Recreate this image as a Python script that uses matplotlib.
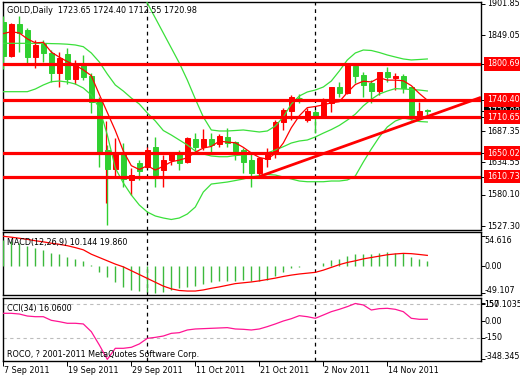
import numpy as np
import matplotlib
matplotlib.use("Agg")
import matplotlib.pyplot as plt

plt.rcParams['font.family'] = ['DejaVu Sans']
FS = 5.8

# ---------------- data ----------------
date_labels = ["7 Sep 2011", "19 Sep 2011", "29 Sep 2011", "11 Oct 2011",
               "21 Oct 2011", "2 Nov 2011", "14 Nov 2011"]
date_pos = [0, 8, 16, 24, 32, 40, 48]
separators = [18, 39]   # first bar of Oct / Nov

opens = [1872.0, 1814.6, 1868.1, 1858.0, 1812.9, 1834.3, 1819.7, 1785.9, 1817.5, 1775.3,
         1802.8, 1780.4, 1738.2, 1655.5, 1623.5, 1648.8, 1604.9, 1634.1, 1627.3, 1661.1,
         1621.8, 1638.6, 1649.9, 1635.8, 1673.5, 1660.1, 1673.5, 1665.6, 1676.9, 1669.5,
         1655.5, 1638.6, 1616.2, 1640.4, 1648.8, 1702.5, 1721.8, 1744.0, 1706.0, 1720.0,
         1712.9, 1734.3, 1762.3, 1751.2, 1797.2, 1782.1, 1768.0, 1755.6, 1787.6, 1777.5,
         1780.4, 1762.3, 1714.6, 1723.65]
highs = [1881.0, 1869.3, 1881.0, 1860.8, 1841.1, 1841.1, 1824.2, 1821.4, 1827.1, 1807.4,
         1815.8, 1784.9, 1745.5, 1664.0, 1675.2, 1667.8, 1624.6, 1638.6, 1660.0, 1678.0,
         1647.1, 1652.6, 1655.5, 1677.0, 1683.7, 1690.4, 1683.7, 1682.5, 1692.1, 1671.0,
         1658.3, 1652.6, 1641.5, 1658.3, 1706.1, 1725.8, 1748.3, 1750.0, 1725.8, 1723.0,
         1742.7, 1762.3, 1770.7, 1801.8, 1801.8, 1787.6, 1773.6, 1787.6, 1795.0, 1785.0,
         1783.7, 1762.3, 1737.0, 1724.40]
lows = [1791.7, 1811.9, 1821.4, 1798.9, 1793.4, 1804.5, 1770.7, 1761.3, 1766.9, 1766.9,
        1773.6, 1718.5, 1627.3, 1529.0, 1607.8, 1593.6, 1579.6, 1604.9, 1625.0, 1592.6,
        1593.6, 1630.2, 1621.8, 1634.0, 1649.9, 1655.5, 1649.9, 1661.1, 1661.1, 1638.6,
        1616.2, 1593.6, 1607.8, 1627.3, 1641.5, 1689.3, 1706.0, 1734.3, 1703.3, 1684.0,
        1710.0, 1720.1, 1745.5, 1750.0, 1768.0, 1745.5, 1734.3, 1748.3, 1770.7, 1756.8,
        1751.2, 1706.1, 1709.0, 1712.55]
closes = [1814.6, 1868.1, 1853.4, 1812.9, 1832.6, 1818.6, 1785.9, 1811.2, 1775.3, 1801.8,
          1779.2, 1737.0, 1652.6, 1623.5, 1649.9, 1606.1, 1613.3, 1620.1, 1655.5, 1613.3,
          1638.6, 1651.0, 1634.1, 1675.2, 1660.1, 1674.1, 1664.0, 1679.1, 1666.8, 1654.4,
          1635.8, 1616.2, 1641.5, 1652.6, 1703.3, 1723.0, 1745.0, 1742.5, 1721.8, 1712.9,
          1737.0, 1762.3, 1751.2, 1798.9, 1780.4, 1765.2, 1755.6, 1787.6, 1778.2, 1780.4,
          1759.6, 1714.6, 1721.8, 1720.98]

# extra red stroke drawn beside the 26 Sep candle: (bar, top, bottom)
spike = (13, 1704.4, 1566.6)

ma_fast = [1852.0, 1855.0, 1853.0, 1843.0, 1836.3, 1837.1, 1820.7, 1812.2, 1804.7, 1798.6,
           1790.7, 1780.9, 1749.2, 1718.8, 1688.4, 1653.8, 1629.1, 1622.6, 1629.0, 1621.7,
           1628.2, 1635.7, 1638.5, 1642.4, 1651.8, 1658.9, 1661.5, 1670.5, 1668.8, 1667.7,
           1660.0, 1650.5, 1642.9, 1640.1, 1649.9, 1667.3, 1693.1, 1713.2, 1727.0, 1728.9,
           1731.7, 1735.2, 1737.0, 1752.5, 1766.0, 1771.6, 1770.3, 1777.5, 1773.4, 1773.4,
           1772.3, 1764.1, 1750.9, 1739.5]
bb_upper = [None, None, None, None, None, None, None, None, None, None,
            None, None, None, None, None, None, None, 1928.8, 1903.5, 1878.2,
            1852.9, 1827.6, 1802.3, 1773.6, 1741.6, 1711.2, 1689.3, 1687.6, 1687.6, 1688.4,
            1689.3, 1687.6, 1685.9, 1687.6, 1696.0, 1711.2, 1733.1, 1746.6, 1753.4, 1756.7,
            1761.8, 1771.9, 1788.8, 1807.4, 1819.2, 1824.2, 1823.4, 1820.0, 1815.8, 1812.4,
            1809.1, 1807.4, 1808.2, 1809.1]
bb_middle = [1835.5, 1835.5, 1835.5, 1835.5, 1835.5, 1835.5, 1835.0, 1834.7, 1834.0, 1832.7,
             1829.8, 1819.2, 1804.0, 1783.7, 1765.2, 1755.0, 1743.2, 1733.1, 1718.0, 1704.5,
             1688.4, 1680.8, 1672.4, 1664.0, 1653.8, 1648.8, 1645.4, 1644.2, 1644.2, 1646.2,
             1647.1, 1650.5, 1648.8, 1650.5, 1655.5, 1661.1, 1667.3, 1670.7, 1672.4, 1677.5,
             1684.0, 1690.0, 1697.0, 1706.0, 1716.0, 1730.0, 1741.0, 1750.0, 1755.0, 1759.1,
             1758.4, 1757.6, 1756.7, 1755.1]
bb_lower = [1753.9, 1753.9, 1753.9, 1753.9, 1758.4, 1765.2, 1770.7, 1771.9, 1770.2, 1766.9,
            1760.1, 1748.3, 1726.4, 1681.0, 1625.0, 1600.0, 1579.6, 1562.7, 1550.9, 1544.2,
            1540.8, 1538.3, 1540.8, 1547.5, 1559.3, 1584.6, 1598.1, 1599.8, 1601.5, 1604.0,
            1606.6, 1610.0, 1612.5, 1614.2, 1613.3, 1610.0, 1606.6, 1603.2, 1602.0, 1602.0,
            1602.0, 1603.2, 1603.2, 1604.9, 1611.6, 1635.2, 1657.2, 1677.5, 1694.4, 1704.4,
            1709.5, 1707.0, 1703.6, 1702.8]

levels = [1800.69, 1740.40, 1710.65, 1650.02, 1610.73]
trend_pts = [(32, 1610.73), (53, 1712.0)]
price_ticks = [1901.85, 1849.05, 1687.35, 1634.55, 1580.10, 1527.30]
last_price = 1720.98

macd_hist = [48.5, 45.5, 42.5, 37.5, 33.5, 30.0, 25.0, 22.0, 17.0, 14.0,
             10.0, 2.7, -9.5, -19.0, -28.0, -37.0, -42.5, -45.0, -47.0, -48.5,
             -46.0, -43.0, -40.0, -37.0, -35.0, -32.0, -29.0, -27.5, -27.0, -26.0,
             -25.5, -27.0, -27.0, -25.5, -18.5, -10.5, -3.0, -1.0, 1.0, 1.0,
             6.0, 11.5, 13.5, 18.0, 22.0, 22.5, 23.0, 24.0, 25.5, 24.0,
             24.0, 17.0, 13.3, 10.144]
macd_signal = [54.6, 53.0, 51.0, 49.0, 46.5, 44.5, 42.0, 40.0, 37.5, 34.0,
               30.0, 22.0, 16.0, 10.0, 4.0, -1.0, -8.0, -15.0, -22.0, -29.0,
               -36.0, -41.0, -44.0, -45.0, -45.0, -43.0, -40.0, -37.5, -34.5, -31.5,
               -30.0, -28.5, -26.5, -24.0, -21.5, -18.5, -16.0, -14.0, -12.5, -11.0,
               -7.0, -2.0, 3.0, 7.0, 10.0, 13.5, 16.0, 18.5, 21.0, 22.5,
               23.5, 23.0, 21.5, 19.86]
macd_ticks = [54.616, 0.00, -49.107]

cci = [69.3, 69.3, 63.0, 45.0, 39.0, 39.0, 6.4, -5.5, -20.0, -20.0,
       -26.0, -95.0, -214.0, -343.0, -244.0, -244.0, -235.0, -205.0, -155.0, -146.0,
       -134.0, -110.0, -104.0, -80.0, -71.0, -68.0, -65.0, -62.0, -59.0, -71.0,
       -74.0, -80.0, -71.0, -50.0, -26.0, 0.4, 21.0, 48.0, 39.0, 24.6,
       54.0, 84.0, 105.0, 129.0, 157.1, 144.0, 99.0, 111.0, 114.0, 105.0,
       84.0, 24.6, 15.6, 16.06]
cci_levels = [150, -150]

# ---------------- layout ----------------
W, H = 520, 380
fig = plt.figure(figsize=(W / 100, H / 100), dpi=100)
fig.patch.set_facecolor("white")


def rect(x0, y0, x1, y1):
    return [x0 / W, 1 - y1 / H, (x1 - x0) / W, (y1 - y0) / H]


ax = fig.add_axes(rect(2.7, 2, 481, 229.5))
axm = fig.add_axes(rect(2.7, 232, 481, 294.5))
axc = fig.add_axes(rect(2.7, 298.3, 481, 360.7))

XL = (-0.075, 59.71)
GREEN = "#2FD02F"
BAND = "#3AE03A"
RED = "#FF0000"
PX = 0.72  # one pixel in points

for a in (ax, axm, axc):
    a.set_xlim(*XL)
    a.set_facecolor("white")
    for s in a.spines.values():
        s.set_linewidth(1.0)
        s.set_color("black")
    a.set_xticks([])
    a.yaxis.tick_right()
    a.tick_params(axis="y", direction="out", length=3, width=0.7, labelright=False,
                  labelleft=False, left=False, right=True)
    for s in separators:
        a.axvline(s, color="black", lw=0.9, ls=(0, (3, 3)), zorder=1)

ax.set_ylim(1521.4, 1905.2)
axm.set_ylim(-51.3, 62.4)
axc.set_ylim(-354.9, 203.6)

x = np.arange(len(closes))
o = np.array(opens); c = np.array(closes); h = np.array(highs); l = np.array(lows)
up = c >= o
cols = np.where(up, RED, GREEN)

# ---------------- main panel ----------------
ax.vlines(x, l, h, colors=cols, lw=1.0, zorder=3)
body_lo = np.minimum(o, c)
body_h = np.abs(c - o)
ax.bar(x, body_h, bottom=body_lo, width=0.55, color=cols, edgecolor=cols,
       linewidth=0.7, zorder=4)
ax.vlines(spike[0] - 0.22, spike[2], spike[1], colors=RED, lw=0.9, zorder=3)

ub = np.array([np.nan if v is None else v for v in bb_upper], dtype=float)
ax.plot(x, ub, color=BAND, lw=0.9, zorder=5)
ax.plot(x, bb_middle, color=BAND, lw=0.9, zorder=5)
ax.plot(x, bb_lower, color=BAND, lw=0.9, zorder=5)
ax.plot(x, ma_fast, color=RED, lw=0.9, zorder=5)

for lv in levels:
    ax.axhline(lv, color=RED, lw=2.3, zorder=6)

(t0, p0), (t1, p1) = trend_pts
slope = (p1 - p0) / (t1 - t0)
ax.plot([t0, XL[1]], [p0, p0 + slope * (XL[1] - t0)], color=RED, lw=2.0,
        zorder=6, solid_capstyle="butt")

ax.set_yticks(price_ticks + levels + [last_price])
ytr = ax.get_yaxis_transform()
LX = 1 + 5.7 / 478.3
LXS = 1 + 3.3 / 478.3
for t in price_ticks:
    ax.text(LX, t, f"{t:.2f}", transform=ytr, fontsize=FS, va="center", ha="left",
            clip_on=False)
ax.text(LX, last_price, f"{last_price:.2f}", transform=ytr, fontsize=FS, va="center",
        ha="left", color="white", clip_on=False, zorder=20,
        bbox=dict(boxstyle="square,pad=0.3", fc="black", ec="none"))
for lv in levels:
    ax.text(LX, lv, f"{lv:.2f}", transform=ytr, fontsize=FS, va="center", ha="left",
            color="white", clip_on=False, zorder=21,
            bbox=dict(boxstyle="square,pad=0.3", fc=RED, ec="none"))

fig.text(7 / W, 1 - 10.7 / H,
         f"GOLD,Daily  {opens[-1]:.2f} {highs[-1]:.2f} {lows[-1]:.2f} {closes[-1]:.2f}",
         fontsize=FS, va="center", ha="left")

# ---------------- MACD ----------------
axm.vlines(x, 0, macd_hist, colors="#3CB93C", lw=1.0, zorder=3)
axm.plot(x, macd_signal, color=RED, lw=0.9, zorder=4)
axm.set_yticks(macd_ticks)
mtr = axm.get_yaxis_transform()
axm.annotate(f"{macd_ticks[0]:.3f}", xy=(LXS, macd_ticks[0]), xycoords=mtr,
             xytext=(0, -4.5 * PX), textcoords="offset points", fontsize=FS,
             va="center", ha="left", annotation_clip=False)
axm.text(LXS, macd_ticks[1], f"{macd_ticks[1]:.2f}", transform=mtr, fontsize=FS,
         va="center", ha="left", clip_on=False)
axm.annotate(f"{macd_ticks[2]:.3f}", xy=(LXS, macd_ticks[2]), xycoords=mtr,
             xytext=(0, 3.0 * PX), textcoords="offset points", fontsize=FS,
             va="center", ha="left", annotation_clip=False)
fig.text(7.3 / W, 1 - 242.3 / H,
         f"MACD(12,26,9) {macd_hist[-1]:.3f} {macd_signal[-1]:.3f}",
         fontsize=FS, va="center", ha="left")

# ---------------- CCI ----------------
for lv in cci_levels:
    axc.axhline(lv, color="#BDBDBD", lw=0.8, ls=(0, (3, 3)), zorder=2)
axc.plot(x, cci, color="#FF1493", lw=0.9, zorder=4)
cmax, cmin = max(cci), min(cci)
axc.set_yticks([cmax, 150, 0, -150, cmin])
ctr = axc.get_yaxis_transform()
axc.annotate("150", xy=(LXS, 150), xycoords=ctr, xytext=(0, 0),
             textcoords="offset points", fontsize=FS, va="center", ha="left",
             annotation_clip=False)
axc.annotate("157.1035", xy=(LXS, cmax), xycoords=ctr, xytext=(0, -1.5 * PX),
             textcoords="offset points", fontsize=FS, va="center", ha="left",
             annotation_clip=False)
axc.text(LXS, 0, "0.00", transform=ctr, fontsize=FS, va="center", ha="left",
         clip_on=False)
axc.text(LXS, -150, "-150", transform=ctr, fontsize=FS, va="center", ha="left",
         clip_on=False)
axc.annotate("-348.345", xy=(LXS, -348.345), xycoords=ctr, xytext=(0, 3.5 * PX),
             textcoords="offset points", fontsize=FS, va="center", ha="left",
             annotation_clip=False)
fig.text(7 / W, 1 - 308.3 / H, f"CCI(34) {cci[-1]:.4f}", fontsize=FS,
         va="center", ha="left")
fig.text(7 / W, 1 - 354.3 / H, "ROCO, ? 2001-2011 MetaQuotes Software Corp.",
         fontsize=FS, va="center", ha="left")

# ---------------- time axis ----------------
axc.set_xticks(date_pos)
axc.tick_params(axis="x", direction="out", length=3.5, width=0.7, labelbottom=False)
for p, lab in zip(date_pos, date_labels):
    axc.annotate(lab, xy=(p, 0), xycoords=("data", "axes fraction"),
                 xytext=(0.5 * PX, -9.5 * PX), textcoords="offset points",
                 fontsize=FS, va="center", ha="left", annotation_clip=False)

fig.savefig("out.png", dpi=100, facecolor="white")
